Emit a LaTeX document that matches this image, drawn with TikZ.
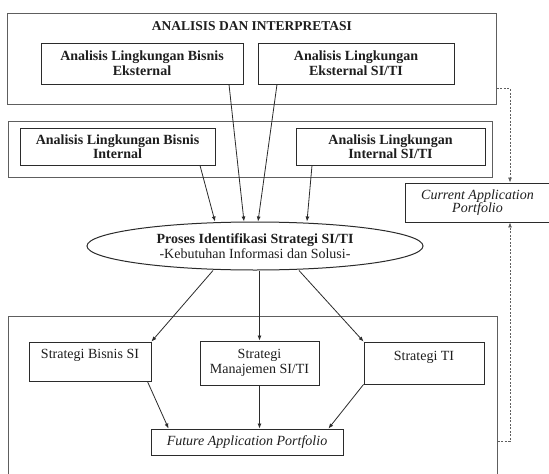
\documentclass[tikz,border=0pt]{standalone}
\usepackage{fontspec}
\setmainfont{Liberation Serif}
\usetikzlibrary{arrows.meta,shapes.geometric}
\definecolor{ln}{HTML}{2B2B2B}
\definecolor{oln}{HTML}{5E5E5E}
\definecolor{tx}{HTML}{1E1E1E}
\begin{document}
\begin{tikzpicture}[x=1pt,y=-1pt,
  txtstyle/.style={font=\fontsize{14pt}{15pt}\selectfont, text=tx, align=center, inner sep=0pt},
  bx/.style={txtstyle, draw=ln, line width=0.9pt, fill=white},
  outerbx/.style={draw=oln, line width=1pt, inner sep=0pt},
  arr/.style={draw=ln, line width=0.8pt, -{Latex[length=5pt,width=4pt]}},
  darr/.style={draw=oln, line width=0.8pt, dash pattern=on 2pt off 1.5pt, -{Latex[length=5pt,width=4pt]}}
]
\useasboundingbox (0,0) rectangle (549,474);
\clip (0,0) rectangle (549,474);
\fill[white] (0,0) rectangle (549,474);

% outer frames
\node[outerbx, minimum width=489pt, minimum height=91pt] (top) at (251.5,58.5) {};
\node[outerbx, minimum width=484pt, minimum height=56pt] (mid) at (250,149) {};
\node[outerbx, minimum width=489pt, minimum height=164pt] (bot) at (252.5,398) {};

% top section
\node[txtstyle, font=\fontsize{13.5pt}{15pt}\selectfont\bfseries] (title) at (252,26) {ANALISIS DAN INTERPRETASI};
\node[bx, font=\fontsize{14pt}{15pt}\selectfont\bfseries, minimum width=202pt, minimum height=41pt] (a1) at (142,63.5) {Analisis Lingkungan Bisnis\\Eksternal};
\node[bx, font=\fontsize{14pt}{15pt}\selectfont\bfseries, minimum width=196pt, minimum height=41pt] (a2) at (356,63.5) {Analisis Lingkungan\\Eksternal SI/TI};

% middle section
\node[bx, font=\fontsize{14pt}{14pt}\selectfont\bfseries, minimum width=195pt, minimum height=37pt] (b1) at (117.5,146.5) {Analisis Lingkungan Bisnis\\Internal};
\node[bx, font=\fontsize{14pt}{14pt}\selectfont\bfseries, minimum width=189pt, minimum height=37pt] (b2) at (390.5,146.5) {Analisis Lingkungan\\Internal SI/TI};

% current application portfolio
\node[bx, font=\fontsize{14pt}{13pt}\selectfont\itshape, minimum width=145pt, minimum height=39pt] (cap) at (477.5,202.5) {Current Application\\Portfolio};

% ellipse
\node[ellipse, draw=ln, line width=1pt, fill=white, minimum width=336pt, minimum height=48pt, inner sep=0pt, txtstyle] (ell) at (255,246) {\textbf{Proses Identifikasi Strategi SI/TI}\\-Kebutuhan Informasi dan Solusi-};

% strategies
\node[bx, minimum width=122pt, minimum height=39pt] (sbs) at (90,361.5) {Strategi Bisnis SI\\~};
\node[bx, minimum width=119pt, minimum height=44pt] (sm) at (259.5,363) {Strategi\\Manajemen SI/TI};
\node[bx, minimum width=120pt, minimum height=42pt] (sti) at (424,363) {Strategi TI\\~};
\node[bx, font=\fontsize{14pt}{15pt}\selectfont\itshape, minimum width=192pt, minimum height=26pt] (fap) at (247,442) {Future Application Portfolio};

% arrows into ellipse
\draw[arr] ([xshift=87pt]a1.south) -- ([xshift=-11pt]ell.north);
\draw[arr] ([xshift=-79pt]a2.south) -- ([xshift=3pt]ell.north);
\draw[arr] ([xshift=82.5pt]b1.south) -- ([xshift=-40pt]ell.north);
\draw[arr] ([xshift=-78.5pt]b2.south) -- ([xshift=52pt]ell.north);

% arrows out of ellipse
\draw[arr] ([xshift=-42pt]ell.south) -- (sbs.north east);
\draw[arr] (ell.south -| sm.north) -- (sm.north);
\draw[arr] ([xshift=44pt]ell.south) -- (sti.north west);

% arrows into future portfolio
\draw[arr] ([xshift=-4pt]sbs.south east) -- ([xshift=18pt]fap.north west);
\draw[arr] (sm.south) -- (sm.south |- fap.north);
\draw[arr] (sti.south west) -- ([xshift=-15pt]fap.north east);

% dashed feedback arrows
\draw[darr] ([yshift=16pt]top.south east) -| ([xshift=32.5pt]cap.north);
\draw[darr] ([yshift=-43pt]bot.east) -| ([xshift=32.5pt]cap.south);
\end{tikzpicture}
\end{document}
